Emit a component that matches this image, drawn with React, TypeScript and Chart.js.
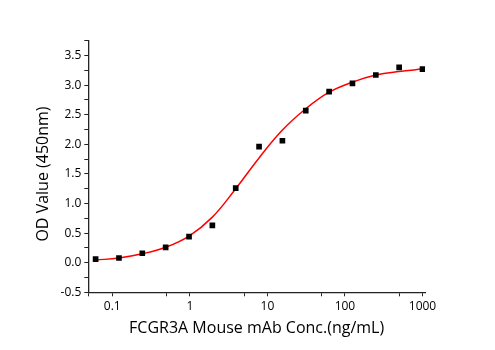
import React, { useEffect, useRef } from "react";
import { Chart, registerables } from "chart.js";

Chart.register(...registerables);

// Concentrations (ng/mL)
const concentrations = [0.061, 0.122, 0.244, 0.488, 0.977, 1.953, 3.906, 7.8125, 15.625, 31.25, 62.5, 125, 250, 500, 1000];
// Measured OD values (450nm)
const odValues = [0.06, 0.08, 0.16, 0.26, 0.44, 0.63, 1.26, 1.96, 2.06, 2.57, 2.89, 3.03, 3.17, 3.3, 3.27];
// Fitted curve at the same concentrations
const fitValues = [0.045, 0.08, 0.15, 0.26, 0.45, 0.77, 1.25, 1.77, 2.24, 2.6, 2.88, 3.05, 3.17, 3.23, 3.27];

const xTickValues = [0.05, 0.1, 0.5, 1, 5, 10, 50, 100, 500, 1000];
const xLabeled = [0.1, 1, 10, 100, 1000];
const yTickValues = [-0.5, -0.25, 0, 0.25, 0.5, 0.75, 1, 1.25, 1.5, 1.75, 2, 2.25, 2.5, 2.75, 3, 3.25, 3.5, 3.75];

const xTitle = "FCGR3A Mouse mAb Conc.(ng/mL)";
const yTitle = "OD Value (450nm)";

const FONT = "'Open Sans', 'DejaVu Sans', sans-serif";

const yTitlePlugin = {
  id: "yTitle",
  afterDraw(chart: any) {
    const ctx = chart.ctx;
    ctx.save();
    ctx.translate(43, 174);
    ctx.rotate(-Math.PI / 2);
    ctx.fillStyle = "#000";
    ctx.font = `16px ${FONT}`;
    ctx.textAlign = "center";
    ctx.textBaseline = "middle";
    ctx.fillText(yTitle, 0, 0);
    ctx.restore();
  },
};

export default function App() {
  const ref = useRef<HTMLCanvasElement | null>(null);

  useEffect(() => {
    document.body.style.margin = "0";
    const canvas = ref.current;
    if (!canvas) return;
    const chart = new Chart(canvas, {
      type: "scatter",
      data: {
        datasets: [
          {
            label: "data",
            data: concentrations.map((c, i) => ({ x: c, y: odValues[i] })),
            pointStyle: "rect",
            pointRadius: 4,
            pointBackgroundColor: "#000",
            pointBorderColor: "#000",
            pointBorderWidth: 0,
            showLine: false,
            order: 0,
          },
          {
            label: "fit",
            data: concentrations.map((c, i) => ({ x: c, y: fitValues[i] })),
            showLine: true,
            borderColor: "#ff0000",
            borderWidth: 1.5,
            pointRadius: 0,
            tension: 0.4,
            order: 1,
          },
        ],
      },
      plugins: [yTitlePlugin],
      options: {
        responsive: false,
        animation: false,
        layout: { padding: { top: 40.7, right: 70, left: 0, bottom: 0 } },
        plugins: { legend: { display: false }, tooltip: { enabled: false } },
        scales: {
          x: {
            type: "logarithmic",
            min: 0.0491,
            max: 1077,
            afterFit: (s: any) => {
              s.height = 57.7;
            },
            afterBuildTicks: (s: any) => {
              s.ticks = xTickValues.map((v) => ({ value: v }));
            },
            ticks: {
              autoSkip: false,
              maxRotation: 0,
              color: "#000",
              font: { family: FONT, size: 12 },
              padding: 3,
              callback: (v: any) => (xLabeled.includes(Number(v)) ? String(v) : ""),
            },
            grid: { drawOnChartArea: false, drawTicks: true, tickLength: 4, color: "#222", lineWidth: 1 },
            border: { display: true, color: "#222", width: 1.3 },
            title: {
              display: true,
              text: xTitle,
              color: "#000",
              font: { family: FONT, size: 16 },
              padding: { top: 0, bottom: 12 },
            },
          },
          y: {
            type: "linear",
            min: -0.5,
            max: 3.75,
            afterFit: (s: any) => {
              s.width = 88.3;
            },
            afterBuildTicks: (s: any) => {
              s.ticks = yTickValues.map((v) => ({ value: v }));
            },
            ticks: {
              autoSkip: false,
              color: "#000",
              font: { family: FONT, size: 12 },
              padding: 3,
              callback: (v: any) => {
                const n = Number(v);
                return Math.abs(n * 2 - Math.round(n * 2)) < 1e-6 ? n.toFixed(1) : "";
              },
            },
            grid: { drawOnChartArea: false, drawTicks: true, tickLength: 4, color: "#222", lineWidth: 1 },
            border: { display: true, color: "#222", width: 1.3 },
          },
        },
      },
    });
    return () => chart.destroy();
  }, []);

  return (
    <div style={{ width: 495, height: 350, position: "relative", background: "#fff" }}>
      <canvas ref={ref} width={495} height={350} style={{ display: "block" }} />
    </div>
  );
}
